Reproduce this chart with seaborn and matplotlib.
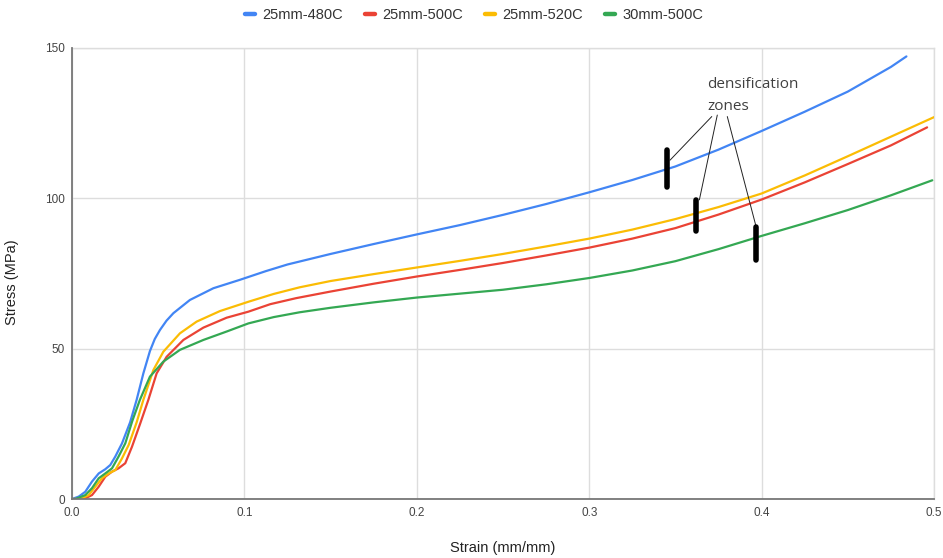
import numpy as np
import pandas as pd
import matplotlib
matplotlib.use("Agg")
import matplotlib.pyplot as plt
import seaborn as sns

# ---- data ----
series_names = ["25mm-480C", "25mm-500C", "25mm-520C", "30mm-500C"]
series_colors = ["#4285F4", "#EA4335", "#FBBC04", "#34A853"]

strain_480 = [0, 0.0039, 0.0077, 0.0116, 0.0155, 0.0193, 0.0222, 0.0251, 0.029, 0.0337, 0.0375,
              0.0414, 0.0452, 0.048, 0.051, 0.0548, 0.0588, 0.0684, 0.082, 0.0974, 0.1125, 0.125,
              0.15, 0.175, 0.2, 0.225, 0.25, 0.275, 0.3, 0.325, 0.35, 0.375, 0.4, 0.425, 0.45,
              0.475, 0.484]
stress_480 = [0, 0.8, 2.4, 5.8, 8.5, 9.9, 11.3, 14.1, 18.5, 25.5, 33,
              41.8, 49.2, 53.2, 56.2, 59.3, 61.8, 66.2, 70.1, 72.9, 75.8, 78,
              81.5, 84.8, 88, 91.1, 94.5, 98.1, 102, 106.1, 110.6, 116.2, 122.4, 128.8, 135.5,
              143.7, 147.2]

strain_500 = [0, 0.0068, 0.0116, 0.0155, 0.0193, 0.0232, 0.027, 0.0309, 0.0348, 0.0395, 0.0443,
              0.0491, 0.0549, 0.0646, 0.0762, 0.0897, 0.1023, 0.115, 0.13, 0.15, 0.175, 0.2,
              0.225, 0.25, 0.275, 0.3, 0.325, 0.35, 0.375, 0.4, 0.425, 0.45, 0.475, 0.496]
stress_500 = [0, 0, 1.3, 4.1, 7.4, 9.1, 10.2, 11.9, 17.4, 25, 33,
              41.8, 47.3, 52.9, 57, 60.3, 62.3, 64.8, 66.8, 69, 71.6, 74,
              76.2, 78.5, 81, 83.6, 86.6, 90.1, 94.6, 99.6, 105.3, 111.4, 117.6, 123.6]

strain_520 = [0, 0.0048, 0.0097, 0.0135, 0.0174, 0.0213, 0.0251, 0.029, 0.0329, 0.0375, 0.0414,
              0.0472, 0.053, 0.0626, 0.0723, 0.0858, 0.1023, 0.117, 0.132, 0.15, 0.175, 0.2,
              0.225, 0.25, 0.275, 0.3, 0.325, 0.35, 0.375, 0.4, 0.425, 0.45, 0.475, 0.5]
stress_520 = [0, 0, 1.3, 4.1, 6.9, 8.5, 9.6, 13.5, 18, 25.5, 33,
              42.9, 49, 55.1, 59, 62.5, 65.6, 68.2, 70.4, 72.5, 74.8, 77,
              79.2, 81.5, 84, 86.6, 89.6, 93.1, 97.1, 101.6, 107.6, 114, 120.5, 127]

strain_30_500 = [0, 0.002, 0.0077, 0.0116, 0.0155, 0.0193, 0.0232, 0.027, 0.0309, 0.035, 0.0394,
                 0.0452, 0.053, 0.0626, 0.0762, 0.0897, 0.1023, 0.117, 0.132, 0.15, 0.175, 0.2,
                 0.225, 0.25, 0.275, 0.3, 0.325, 0.35, 0.375, 0.4, 0.425, 0.45, 0.475, 0.499]
stress_30_500 = [0, 0, 1.3, 3.6, 6.9, 8.5, 10.2, 14.1, 18.5, 26, 33,
                 40.7, 45.7, 49.6, 52.9, 55.7, 58.4, 60.5, 62.1, 63.6, 65.4, 67,
                 68.3, 69.6, 71.4, 73.5, 76, 79.1, 83.1, 87.5, 91.7, 96.1, 101, 106]

x_ticks = [0.0, 0.1, 0.2, 0.3, 0.4, 0.5]
x_tick_labels = ["0.0", "0.1", "0.2", "0.3", "0.4", "0.5"]
y_ticks = [0, 50, 100, 150]
y_tick_labels = ["0", "50", "100", "150"]

annotation_text = ["densification", "zones"]
zone_strain = [0.345, 0.362, 0.3968]
zone_low = [103.9, 89.1, 79.5]
zone_high = [116.1, 99.5, 90.6]

# ---- build long table ----
frames = []
for name, xs, ys in zip(series_names,
                        [strain_480, strain_500, strain_520, strain_30_500],
                        [stress_480, stress_500, stress_520, stress_30_500]):
    frames.append(pd.DataFrame({"Strain": xs, "Stress": ys, "Series": name}))
df = pd.concat(frames, ignore_index=True)

sns.set_theme(style="white")
plt.rcParams["font.family"] = ["Liberation Sans", "DejaVu Sans"]

fig = plt.figure(figsize=(9.43, 5.58), dpi=100)
ax = fig.add_axes([72 / 943, 59 / 558, 862 / 943, 451 / 558])

sns.lineplot(data=df, x="Strain", y="Stress", hue="Series", hue_order=series_names,
             palette=series_colors, estimator=None, sort=False, linewidth=1.6,
             ax=ax, legend=False, zorder=3)
for ln in ax.get_lines():
    ln.set_solid_joinstyle("round")

ax.set_xlim(0, 0.5)
ax.set_ylim(0, 150)
ax.set_xticks(x_ticks)
ax.set_xticklabels(x_tick_labels)
ax.set_yticks(y_ticks)
ax.set_yticklabels(y_tick_labels)
ax.tick_params(axis="both", length=0, labelsize=8.5, labelcolor="#444444")
ax.tick_params(axis="x", pad=6)
ax.tick_params(axis="y", pad=5)
ax.grid(True, color="#dddddd", linewidth=1)
ax.set_axisbelow(True)
for side in ["top", "right"]:
    ax.spines[side].set_color("#dddddd")
    ax.spines[side].set_linewidth(1)
for side in ["left", "bottom"]:
    ax.spines[side].set_color("#777777")
    ax.spines[side].set_linewidth(1.3)
    ax.spines[side].set_zorder(4)

ax.set_xlabel("Strain (mm/mm)", fontsize=10.5, color="#222222")
ax.set_ylabel("Stress (MPa)", fontsize=10.5, color="#222222")
ax.xaxis.set_label_coords(0.5, -0.093)
ax.yaxis.set_label_coords(-0.0615, 0.48)

# legend
handles = [plt.Line2D([0], [0], color=c, linewidth=3.2) for c in series_colors]
fig.legend(handles, series_names, loc="center", bbox_to_anchor=(474 / 943, 1 - 15 / 558),
           ncol=4, frameon=False, fontsize=10.5, handlelength=0.7, handletextpad=0.5,
           columnspacing=1.5, labelcolor="#333333")

# annotation
ax.text(0.3683, 136.6, annotation_text[0], fontsize=11, color="#404040",
        family=["Open Sans", "DejaVu Sans"], va="baseline", ha="left", zorder=5)
ax.text(0.3683, 129.4, annotation_text[1], fontsize=11, color="#404040",
        family=["Open Sans", "DejaVu Sans"], va="baseline", ha="left", zorder=5)
line_starts = [(0.3711, 127.2), (0.3743, 127.7), (0.3801, 127.2)]
line_ends = [(0.3469, 112.7), (0.3639, 99.5), (0.3968, 90.6)]
for (x0, y0), (x1, y1) in zip(line_starts, line_ends):
    ax.plot([x0, x1], [y0, y1], color="#222222", linewidth=0.7, zorder=5)
for xz, lo, hi in zip(zone_strain, zone_low, zone_high):
    ax.plot([xz, xz], [lo, hi], color="black", linewidth=4, solid_capstyle="round", zorder=6)

fig.savefig("out.png", dpi=100)
